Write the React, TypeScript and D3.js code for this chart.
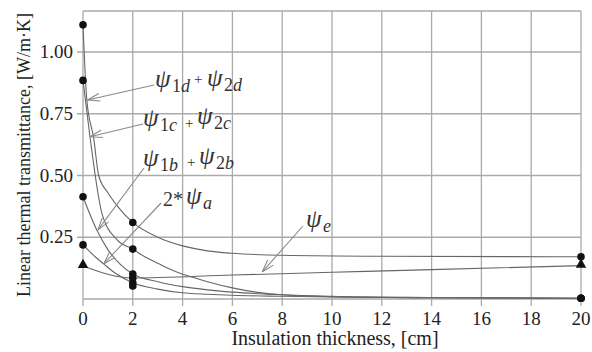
import * as d3 from 'd3';

// insulation thickness ticks [cm] and psi ticks [W/m·K]
const thicknessTicks = [0, 2, 4, 6, 8, 10, 12, 14, 16, 18, 20];
const psiTicks = [0.25, 0.5, 0.75, 1.0];

// psi_1d + psi_2d
const dThick = [0, 0.15, 0.43, 0.63, 1, 1.43, 2, 3, 4, 5, 6, 8, 12, 20];
const dVals = [1.11, 0.81, 0.65, 0.5, 0.43, 0.37, 0.31, 0.25, 0.215, 0.195, 0.185, 0.177, 0.173, 0.171];

// psi_1c + psi_2c
const cThick = [0, 0.28, 0.76, 1.37, 2, 2.5, 3, 3.5, 4, 4.5, 5, 6, 7, 8, 10, 14, 20];
const cVals = [0.885, 0.657, 0.347, 0.239, 0.202, 0.17, 0.145, 0.12, 0.1, 0.085, 0.07, 0.045, 0.027, 0.017, 0.009, 0.005, 0.003];

// psi_1b + psi_2b
const bThick = [0, 0.55, 1, 1.5, 2, 3, 4, 5, 6, 8, 10, 14, 20];
const bVals = [0.414, 0.28, 0.2, 0.14, 0.101, 0.07, 0.05, 0.037, 0.028, 0.017, 0.011, 0.006, 0.003];

// 2*psi_a
const aThick = [0, 0.5, 0.83, 1.3, 2, 3, 4, 5, 6, 8, 10, 14, 20];
const aVals = [0.219, 0.17, 0.142, 0.104, 0.066, 0.04, 0.025, 0.019, 0.015, 0.011, 0.008, 0.005, 0.003];

// psi_e
const eThick = [0, 2, 6, 10, 14, 20];
const eVals = [0.134, 0.085, 0.097, 0.108, 0.119, 0.135];

// measured points (thickness 0, 2, 20 cm)
const markThick = [0, 2, 20];
const extraDots = [[2, 0.053]];

const W = 592, H = 352;
const x = d3.scaleLinear().domain([0, 20]).range([83, 581]);
const y = d3.scaleLinear().domain([0, 1.166]).range([299, 11]);

const curveColor = '#666';
const gridColor = '#aaa';
const arrowColor = '#8a8a8a';

const line = d3.line<[number, number]>()
  .x(d => x(d[0]))
  .y(d => y(d[1]))
  .curve(d3.curveMonotoneX);

const zip = (xs: number[], vs: number[]) => xs.map((t, i) => [t, vs[i]] as [number, number]);

const circles = zip(dThick, dVals).concat(zip(cThick, cVals), zip(bThick, bVals), zip(aThick, aVals))
  .filter(p => markThick.includes(p[0]))
  .concat(zip(eThick, eVals).filter(p => p[0] === 2))
  .concat(extraDots as [number, number][]);
const triangles = zip(eThick, eVals).filter(p => p[0] === 0 || p[0] === 20);

const tri = d3.symbol().type(d3.symbolTriangle).size(48)();

function Arrow({ x1, y1, x2, y2 }: { x1: number; y1: number; x2: number; y2: number }) {
  const a = Math.atan2(y1 - y2, x1 - x2);
  const len = 13, sp = 0.3;
  return (
    <g stroke={arrowColor} strokeWidth={1.1} fill="none">
      <line x1={x1} y1={y1} x2={x2} y2={y2} />
      <line x1={x2} y1={y2} x2={x2 + len * Math.cos(a + sp)} y2={y2 + len * Math.sin(a + sp)} />
      <line x1={x2} y1={y2} x2={x2 + len * Math.cos(a - sp)} y2={y2 + len * Math.sin(a - sp)} />
    </g>
  );
}

function Psi({ px, base, sub }: { px: number; base: number; sub: string }) {
  const digits = sub.replace(/[a-z]/g, '');
  const letter = sub.replace(/[0-9]/g, '');
  return (
    <g fill="#333" fontFamily="'Liberation Serif', serif">
      <text x={px} y={base} fontSize={25} fontStyle="italic">ψ</text>
      <text x={px + 17} y={base + 5} fontSize={18}>
        {digits}<tspan fontStyle="italic">{letter}</tspan>
      </text>
    </g>
  );
}

function Plus({ px, base }: { px: number; base: number }) {
  return <text x={px} y={base} fontSize={15} fill="#333" fontFamily="'Liberation Serif', serif">+</text>;
}

export default function App() {
  return (
    <svg width={W} height={H} style={{ position: 'absolute', left: 0, top: 0, background: '#fff' }}
      fontFamily="'Liberation Serif', 'Times New Roman', serif">
      {/* grid */}
      <g stroke={gridColor} strokeWidth={1.3}>
        {thicknessTicks.map(t => (
          <line key={'v' + t} x1={x(t)} x2={x(t)} y1={y.range()[1]} y2={y(0) + 7} />
        ))}
        {psiTicks.map(v => (
          <line key={'h' + v} x1={x(0) - 6} x2={x(20)} y1={y(v)} y2={y(v)} />
        ))}
        <line x1={x(0)} x2={x(20)} y1={y(0)} y2={y(0)} />
        <line x1={x(0)} x2={x(20)} y1={y.range()[1]} y2={y.range()[1]} />
      </g>

      {/* tick labels */}
      <g fontSize={19} fill="#222">
        {thicknessTicks.map(t => (
          <text key={'xl' + t} x={x(t)} y={325} textAnchor="middle">{t}</text>
        ))}
        {psiTicks.map(v => (
          <text key={'yl' + v} x={73} y={y(v) + 6} textAnchor="end">{v.toFixed(2)}</text>
        ))}
      </g>

      <text x={335} y={345} textAnchor="middle" fontSize={20} fill="#222">Insulation thickness, [cm]</text>
      <text transform={`translate(30,${155}) rotate(-90)`} textAnchor="middle" fontSize={18} fill="#222">
        Linear thermal transmittance, [W/m·K]
      </text>

      {/* curves */}
      <g fill="none" stroke={curveColor} strokeWidth={1.1}>
        <path d={line(zip(dThick, dVals)) ?? ''} />
        <path d={line(zip(cThick, cVals)) ?? ''} />
        <path d={line(zip(bThick, bVals)) ?? ''} />
        <path d={line(zip(aThick, aVals)) ?? ''} />
        <path d={line(zip(eThick, eVals)) ?? ''} />
      </g>

      {/* markers */}
      <g fill="#111">
        {circles.map((p, i) => (
          <circle key={'c' + i} cx={x(p[0])} cy={y(p[1])} r={3.8} />
        ))}
        {triangles.map((p, i) => (
          <path key={'t' + i} d={tri ?? ''} transform={`translate(${x(p[0])},${y(p[1]) - 1})`} />
        ))}
      </g>

      {/* annotations */}
      <Arrow x1={154} y1={85} x2={x(0.18)} y2={y(0.806)} />
      <Arrow x1={143} y1={124} x2={x(0.28)} y2={y(0.657)} />
      <Arrow x1={144} y1={168} x2={x(0.6)} y2={y(0.28)} />
      <Arrow x1={161} y1={203} x2={x(0.83)} y2={y(0.142)} />
      <Arrow x1={303} y1={226} x2={x(7.2)} y2={y(0.11)} />

      <Psi px={155} base={87} sub="1d" />
      <Plus px={194} base={84} />
      <Psi px={207} base={86} sub="2d" />

      <Psi px={143} base={126} sub="1c" />
      <Plus px={185} base={128} />
      <Psi px={197} base={124} sub="2c" />

      <Psi px={143} base={166} sub="1b" />
      <Plus px={187} base={167} />
      <Psi px={199} base={164} sub="2b" />

      <text x={163} y={206} fontSize={20} fill="#333">2*</text>
      <Psi px={186} base={204} sub="a" />

      <Psi px={306} base={227} sub="e" />
    </svg>
  );
}
